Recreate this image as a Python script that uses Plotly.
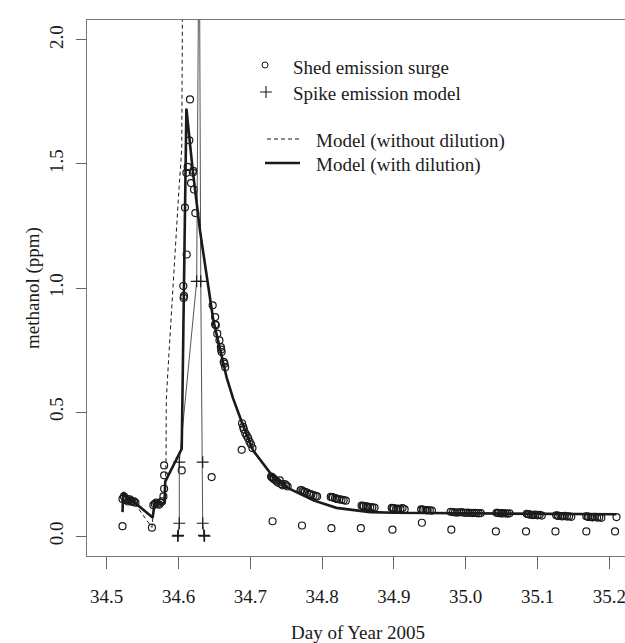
import plotly.graph_objects as go

# ---------------- data ----------------
# Shed emission surge (open circles)
obs_x = [
    34.522, 34.524, 34.526, 34.528, 34.530, 34.532, 34.534, 34.536, 34.538, 34.540,
    34.522,
    34.565, 34.567, 34.569, 34.571, 34.573, 34.575, 34.577,
    34.563,
    34.579, 34.580, 34.580, 34.580,
    34.6045, 34.6067, 34.6077, 34.6072, 34.609, 34.6114, 34.611, 34.6128, 34.615,
    34.616, 34.6174, 34.6206, 34.6200, 34.6216, 34.6234, 34.6462,
    34.6476, 34.651, 34.651, 34.652, 34.654, 34.657, 34.659, 34.6595, 34.660,
    34.663, 34.664, 34.665,
    34.6885, 34.690, 34.691, 34.693, 34.695, 34.697, 34.699, 34.701, 34.703, 34.688,
    34.729, 34.730, 34.731, 34.732, 34.733, 34.735, 34.737, 34.739, 34.741, 34.743,
    34.745, 34.748, 34.750, 34.752,
    34.770, 34.771, 34.773, 34.775, 34.776, 34.779, 34.782, 34.785, 34.788, 34.791, 34.793,
    34.812, 34.814, 34.815, 34.818, 34.820, 34.821, 34.824, 34.827, 34.830, 34.833,
    34.855, 34.857, 34.858, 34.861, 34.863, 34.864, 34.867, 34.870, 34.873,
    34.897, 34.899, 34.900, 34.903, 34.905, 34.906, 34.909, 34.912, 34.915,
    34.938, 34.940, 34.941, 34.944, 34.946, 34.947, 34.950, 34.953,
    34.979, 34.982, 34.985, 34.988, 34.991, 34.994, 34.997, 35.000, 35.003, 35.006,
    35.009, 35.012, 35.015, 35.018, 35.021,
    35.043, 35.045, 35.046, 35.049, 35.051, 35.052, 35.055, 35.058, 35.061,
    35.085, 35.087, 35.088, 35.091, 35.093, 35.094, 35.097, 35.100, 35.103, 35.106,
    35.126, 35.128, 35.129, 35.132, 35.134, 35.135, 35.138, 35.141, 35.144, 35.147,
    35.168, 35.170, 35.171, 35.174, 35.176, 35.177, 35.180, 35.183, 35.186, 35.189,
    35.210,
    34.731, 34.772, 34.813, 34.854, 34.898, 34.939, 34.980, 35.042, 35.084, 35.125,
    35.168, 35.208,
]
obs_y = [
    0.150, 0.160, 0.145, 0.150, 0.140, 0.148, 0.142, 0.138, 0.140, 0.135,
    0.040,
    0.125, 0.130, 0.135, 0.130, 0.127, 0.135, 0.140,
    0.034,
    0.160, 0.191, 0.245, 0.285,
    0.265, 1.008, 0.968, 0.960, 1.324, 1.135, 1.464, 1.488, 1.595,
    1.760, 1.423, 1.472, 1.465, 1.397, 1.302, 0.238,
    0.930, 0.883, 0.854, 0.850, 0.816, 0.789, 0.762, 0.752, 0.742,
    0.702, 0.695, 0.681,
    0.455, 0.440, 0.430, 0.415, 0.405, 0.395, 0.380, 0.370, 0.355, 0.348,
    0.240, 0.238, 0.235, 0.232, 0.230, 0.225, 0.220, 0.215, 0.225, 0.210,
    0.205, 0.210, 0.205, 0.200,
    0.185, 0.186, 0.182, 0.180, 0.178, 0.175, 0.170, 0.168, 0.165, 0.162, 0.160,
    0.158, 0.157, 0.156, 0.153, 0.151, 0.150, 0.148, 0.147, 0.145, 0.143,
    0.123, 0.122, 0.121, 0.120, 0.119, 0.118, 0.117, 0.116, 0.115,
    0.114, 0.113, 0.112, 0.110, 0.111, 0.109, 0.110, 0.113, 0.108,
    0.108, 0.107, 0.106, 0.105, 0.105, 0.104, 0.104, 0.103,
    0.098, 0.097, 0.096, 0.095, 0.096, 0.097, 0.095, 0.094, 0.095, 0.094,
    0.093, 0.094, 0.093, 0.092, 0.093,
    0.094, 0.094, 0.093, 0.092, 0.092, 0.093, 0.092, 0.091, 0.092,
    0.090, 0.089, 0.088, 0.086, 0.086, 0.085, 0.087, 0.084, 0.086, 0.083,
    0.084, 0.083, 0.082, 0.081, 0.081, 0.080, 0.082, 0.079, 0.080, 0.078,
    0.080, 0.079, 0.078, 0.077, 0.077, 0.076, 0.078, 0.075, 0.076, 0.074,
    0.077,
    0.060, 0.043, 0.032, 0.032, 0.026, 0.054, 0.026, 0.019, 0.019, 0.019,
    0.019, 0.019,
]

# Spike emission model (plus markers joined by a thin line)
spike_x = [34.5989, 34.5995, 34.6011, 34.6011, 34.6253, 34.6288, 34.6310, 34.6337, 34.6337, 34.6355, 34.6362]
spike_y = [0.000, 0.003, 0.052, 0.298, 1.027, 2.630, 1.027, 0.298, 0.052, 0.003, 0.000]

# Model (without dilution) - dashed
nodil_x = [34.522, 34.522, 34.523, 34.530, 34.537, 34.563, 34.566, 34.575, 34.5805,
           34.5826, 34.5830, 34.5870, 34.5905, 34.5950, 34.6000, 34.6045, 34.6053, 34.6055]
nodil_y = [0.100, 0.165, 0.175, 0.150, 0.140, 0.035, 0.130, 0.130, 0.130,
           0.290, 0.550, 0.750, 0.900, 1.130, 1.370, 1.560, 2.000, 2.600]

# Model (with dilution) - solid
dil_x = [34.522, 34.522, 34.523, 34.530, 34.537, 34.564, 34.567, 34.575, 34.5805,
         34.5815, 34.6045, 34.611, 34.620, 34.630, 34.6485, 34.667, 34.676, 34.689,
         34.704, 34.732, 34.755, 34.788, 34.820, 34.867, 34.900, 34.950, 35.000,
         35.050, 35.100, 35.150, 35.210]
dil_y = [0.097, 0.165, 0.177, 0.150, 0.140, 0.075, 0.137, 0.130, 0.135,
         0.220, 0.352, 1.723, 1.470, 1.230, 0.870, 0.640, 0.555, 0.453,
         0.345, 0.238, 0.190, 0.144, 0.114, 0.097, 0.094, 0.093, 0.092,
         0.091, 0.090, 0.089, 0.088]

x_ticks = [34.5, 34.6, 34.7, 34.8, 34.9, 35.0, 35.1, 35.2]
x_tick_text = ["34.5", "34.6", "34.7", "34.8", "34.9", "35.0", "35.1", "35.2"]
y_ticks = [0.0, 0.5, 1.0, 1.5, 2.0]
y_tick_text = ["0.0", "0.5", "1.0", "1.5", "2.0"]

legend_labels = ["Shed emission surge", "Spike emission model",
                 "Model (without dilution)", "Model (with dilution)"]

# ---------------- figure ----------------
SERIF = "Liberation Serif, serif"
INK = "#1a1a1a"
FS = 19
W, H = 625, 643
ML, MR, MT, MB = 87, 0, 20, 87

fig = go.Figure()

fig.add_trace(go.Scatter(
    x=obs_x, y=obs_y, mode="markers",
    marker=dict(symbol="circle-open", size=7, color=INK, line=dict(width=1.2, color=INK)),
    showlegend=False, hoverinfo="skip"))

fig.add_trace(go.Scatter(
    x=nodil_x, y=nodil_y, mode="lines",
    line=dict(color=INK, width=1, dash="4px,3px"),
    showlegend=False, hoverinfo="skip"))

fig.add_trace(go.Scatter(
    x=spike_x, y=spike_y, mode="lines+markers",
    line=dict(color="#555555", width=1),
    marker=dict(symbol="cross-thin-open", size=8.5, color=INK, line=dict(width=1.2, color=INK)),
    showlegend=False, hoverinfo="skip"))

fig.add_trace(go.Scatter(
    x=dil_x, y=dil_y, mode="lines",
    line=dict(color=INK, width=2.6),
    showlegend=False, hoverinfo="skip"))

# ---- manual legend on a pixel-coordinate overlay axis ----
fig.add_trace(go.Scatter(
    x=[265], y=[65], mode="markers", xaxis="x2", yaxis="y2",
    marker=dict(symbol="circle-open", size=6, color=INK, line=dict(width=1, color=INK)),
    showlegend=False, hoverinfo="skip"))
fig.add_trace(go.Scatter(
    x=[266], y=[92], mode="markers", xaxis="x2", yaxis="y2",
    marker=dict(symbol="cross-thin-open", size=8.5, color=INK, line=dict(width=1.1, color=INK)),
    showlegend=False, hoverinfo="skip"))
fig.add_trace(go.Scatter(
    x=[267, 299], y=[139, 139], mode="lines", xaxis="x2", yaxis="y2",
    line=dict(color=INK, width=1, dash="4px,3px"),
    showlegend=False, hoverinfo="skip"))
fig.add_trace(go.Scatter(
    x=[265, 300], y=[163, 163], mode="lines", xaxis="x2", yaxis="y2",
    line=dict(color=INK, width=2.6),
    showlegend=False, hoverinfo="skip"))

leg_pos = [(291, 67), (291, 93), (314, 141), (314, 165)]
annotations = []
for (lx, ly), txt in zip(leg_pos, legend_labels):
    annotations.append(dict(x=lx, y=ly, xref="x2", yref="y2", text=txt, showarrow=False,
                            xanchor="left", yanchor="middle",
                            font=dict(family=SERIF, size=FS, color=INK)))

# axis titles
annotations.append(dict(x=(33 - ML) / (W - ML - MR), y=0.5, xref="paper", yref="paper",
                        text="methanol (ppm)", textangle=-90, showarrow=False,
                        xanchor="center", yanchor="middle",
                        font=dict(family=SERIF, size=FS, color=INK)))
annotations.append(dict(x=(358 - ML) / (W - ML - MR), y=(H - MB - 632) / (H - MT - MB),
                        xref="paper", yref="paper",
                        text="Day of Year 2005", showarrow=False,
                        xanchor="center", yanchor="middle",
                        font=dict(family=SERIF, size=FS, color=INK)))

x0 = 34.5 - 19.7 / 718.0
x1 = x0 + (W - ML - MR) / 718.0

fig.update_layout(
    width=W, height=H,
    margin=dict(l=ML, r=MR, t=MT, b=MB, pad=0),
    paper_bgcolor="white", plot_bgcolor="white",
    font=dict(family=SERIF, size=FS, color=INK),
    showlegend=False,
    annotations=annotations,
    xaxis=dict(range=[x0, x1], tickvals=x_ticks, ticktext=x_tick_text,
               ticks="outside", ticklen=12, tickwidth=1, tickcolor="#666666",
               showline=True, linecolor="#777777", linewidth=1, mirror=True,
               showgrid=False, zeroline=False, ticklabelstandoff=11,
               ticklabeloverflow="allow",
               tickfont=dict(family=SERIF, size=FS, color=INK)),
    yaxis=dict(range=[-0.08, 2.08], tickvals=y_ticks, ticktext=y_tick_text,
               ticks="outside", ticklen=10, tickwidth=1, tickcolor="#666666",
               showline=True, linecolor="#777777", linewidth=1, mirror=False,
               showgrid=False, zeroline=False, tickangle=-90, ticklabelstandoff=5,
               ticklabeloverflow="allow",
               tickfont=dict(family=SERIF, size=FS, color=INK)),
    xaxis2=dict(overlaying="x", range=[ML, W - MR], visible=False),
    yaxis2=dict(overlaying="y", range=[H - MB, MT], visible=False),
)

fig.write_html("out.html")
